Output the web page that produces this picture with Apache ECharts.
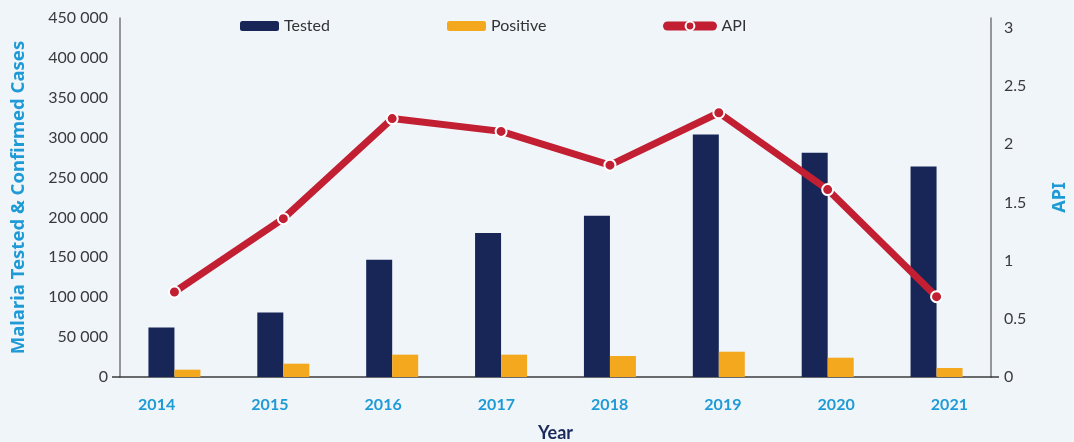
<!DOCTYPE html>
<html>
<head>
<meta charset="utf-8">
<title>Malaria Tested & Confirmed Cases</title>
<script src="https://cdn.jsdelivr.net/npm/echarts@6/dist/echarts.min.js"></script>
<style>
    html, body { margin: 0; padding: 0; background: #f0f5fa; }
    #chart { width: 1074px; height: 442px; }
</style>
</head>
<body>
<div id="chart"></div>
<script>
'use strict';

// 数据
var years = ['2014', '2015', '2016', '2017', '2018', '2019', '2020', '2021'];
var tested = [62000, 81000, 147000, 180500, 202000, 304000, 281000, 264000];
var positive = [9200, 16700, 28000, 28000, 26300, 31700, 24200, 11300];
var api = [0.73, 1.36, 2.22, 2.11, 1.82, 2.27, 1.61, 0.69];

var blue = '#1e9ad6';
var red = '#c21f33';
var font = 'Lato, "Noto Sans", sans-serif';

// 千位用空格分隔
function spaced(v) {
    return String(v).replace(/\B(?=(\d{3})+(?!\d))/g, ' ');
}

var myChart = echarts.init(document.getElementById('chart'));

var legendText = { fontSize: 16, color: '#333' };

var option = {
    backgroundColor: '#f0f5fa',
    textStyle: { fontFamily: font },
    legend: [{
        data: ['Tested'],
        left: 235,
        top: 13,
        itemWidth: 39,
        itemHeight: 10,
        textStyle: legendText
    }, {
        data: ['Positive'],
        left: 442,
        top: 13,
        itemWidth: 39,
        itemHeight: 10,
        textStyle: legendText
    }, {
        data: ['API'],
        left: 658,
        top: 13,
        itemWidth: 45,
        itemHeight: 11,
        lineStyle: { width: 9, cap: 'round' },
        itemStyle: { color: red, borderColor: '#fff', borderWidth: 2 },
        textStyle: { fontSize: 16, color: '#333', padding: [0, 0, 0, 4] }
    }],
    grid: [{
        left: 120,
        right: 83,
        top: 18,
        bottom: 65,
        outerBoundsMode: 'none'
    }, {
        // 仅用于年份标签的位置
        left: 100,
        right: 68,
        top: 18,
        bottom: 65,
        outerBoundsMode: 'none'
    }],
    xAxis: [{
        type: 'category',
        gridIndex: 0,
        data: years,
        name: 'Year',
        nameLocation: 'middle',
        nameGap: 47,
        nameTextStyle: { fontSize: 18, fontWeight: 'bold', color: '#1a2a5c' },
        axisLine: { lineStyle: { color: '#3c3c3c', width: 1.5 } },
        axisTick: { show: false },
        axisLabel: { show: false }
    }, {
        type: 'category',
        gridIndex: 1,
        data: years,
        axisLine: { show: false },
        axisTick: { show: false },
        axisLabel: {
            margin: 20,
            fontSize: 16,
            fontWeight: 'bold',
            color: blue
        }
    }],
    yAxis: [{
        type: 'value',
        gridIndex: 0,
        min: 0,
        max: 450000,
        interval: 50000,
        name: 'Malaria Tested & Confirmed Cases',
        nameLocation: 'middle',
        nameGap: 92,
        nameTextStyle: { fontSize: 18.5, fontWeight: 'bold', color: blue, fontFamily: '"Noto Sans", sans-serif' },
        axisLine: { show: true, lineStyle: { color: '#777', width: 1.5 } },
        axisTick: { show: true, customValues: [0], length: 8, lineStyle: { color: '#3c3c3c', width: 1.5 } },
        splitLine: { show: false },
        axisLabel: {
            margin: 12,
            fontSize: 16,
            color: '#3a3a3a',
            formatter: spaced
        }
    }, {
        type: 'value',
        gridIndex: 0,
        position: 'right',
        min: 0,
        max: 3.084,
        interval: 0.5,
        name: 'API',
        nameLocation: 'middle',
        nameRotate: 90,
        nameGap: 60,
        nameTextStyle: { fontSize: 18, fontWeight: 'bold', color: blue, fontFamily: '"Noto Sans", sans-serif' },
        axisLine: { show: true, lineStyle: { color: '#777', width: 1.5 } },
        axisTick: { show: true, customValues: [0], length: 8, lineStyle: { color: '#3c3c3c', width: 1.5 } },
        splitLine: { show: false },
        axisLabel: {
            margin: 13,
            fontSize: 16,
            color: '#3a3a3a',
            formatter: function(v) {
                return Math.abs(v * 2 - Math.round(v * 2)) < 1e-6 ? String(v) : '';
            }
        }
    }, {
        type: 'value',
        gridIndex: 1,
        show: false
    }],
    series: [{
        name: 'Tested',
        type: 'bar',
        xAxisIndex: 0,
        yAxisIndex: 0,
        barWidth: 26,
        barGap: 0,
        itemStyle: { color: '#172657' },
        data: tested
    }, {
        name: 'Positive',
        type: 'bar',
        xAxisIndex: 0,
        yAxisIndex: 0,
        barWidth: 26,
        barGap: 0,
        itemStyle: { color: '#f4a81e' },
        data: positive
    }, {
        name: 'API',
        type: 'line',
        xAxisIndex: 0,
        yAxisIndex: 1,
        symbol: 'circle',
        symbolSize: 11,
        lineStyle: { color: red, width: 7, cap: 'round' },
        itemStyle: { color: red, borderColor: '#fff', borderWidth: 2 },
        data: api
    }]
};

myChart.setOption(option);
</script>
</body>
</html>
